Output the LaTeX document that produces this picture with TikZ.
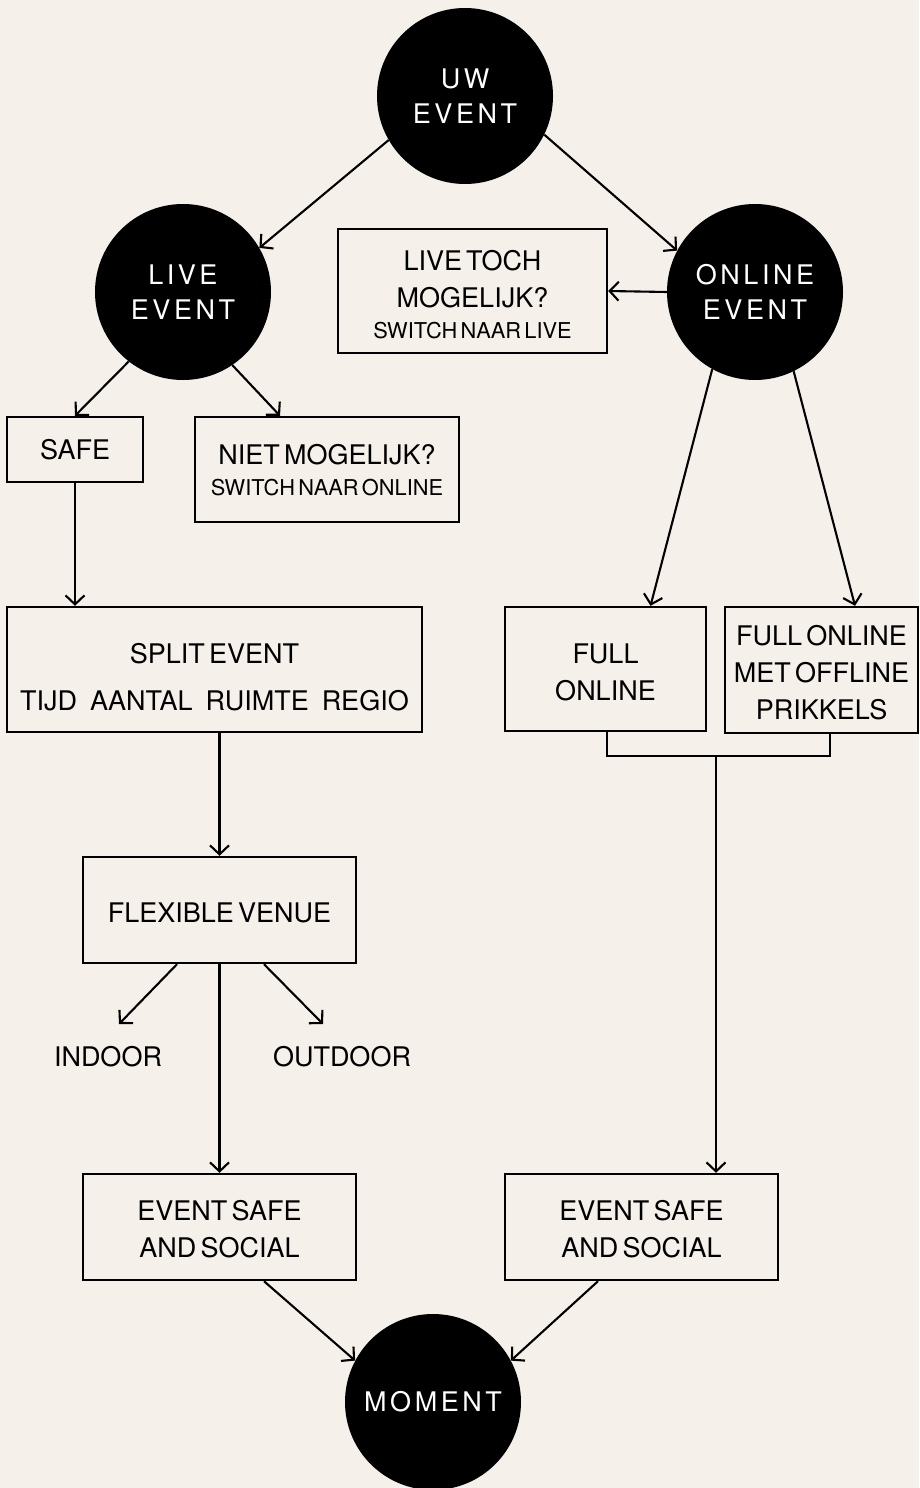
\documentclass[tikz,border=0pt]{standalone}
\usepackage{fontspec}
\setmainfont{TeX Gyre Heros}[WordSpace=0.55]
\newfontfamily\circfont{TeX Gyre Heros}[LetterSpace=13]
\usetikzlibrary{arrows.meta}
\definecolor{bg}{RGB}{245,240,234}
\newlength\txtshift
\newcommand{\bl}[1]{\raisebox{-\txtshift}[\height][\depth]{#1}}
\newcommand{\smalltxt}[1]{{\fontsize{21.8}{30}\selectfont #1}}
\begin{document}
\begin{tikzpicture}[x=1pt,y=-1pt,
  box/.style 2 args={draw, line width=2.4pt, minimum width=#1pt, minimum height=#2pt,
    inner sep=0pt, align=center, font=\fontsize{27}{37}\selectfont,
    execute at begin node={\setlength\txtshift{3pt}}},
  shift/.style={execute at begin node={\setlength\txtshift{#1}}},
  circ/.style={circle, fill=black, minimum size=176pt, inner sep=0pt, align=center,
    text=white, font=\circfont\fontsize{27}{35}\selectfont},
  lbl/.style={inner sep=0pt, font=\fontsize{27}{37}\selectfont},
  conn/.style={line width=2.1pt},
  arr/.style={conn, -{Straight Barb[length=9pt,width=19pt,line width=2.1pt]}}
]
\useasboundingbox (0,0) rectangle (919,1488);
\fill[bg] (0,0) rectangle (919,1488);
\begin{scope}
\clip (0,0) rectangle (919,1488);

% circles
\node[circ] (uw) at (465,96) {UW\\EVENT};
\node[circ] (live) at (183,292) {LIVE\\EVENT};
\node[circ] (online) at (755,292) {ONLINE\\EVENT};
\node[circ] (moment) at (433,1402) {MOMENT};

% boxes
\node[box={269}{124}, shift=3.5pt] (toch) at (472.5,291) {\bl{LIVE TOCH}\\\bl{MOGELIJK?}\\[-6pt]\bl{\smalltxt{SWITCH NAAR LIVE}}};
\node[box={136}{65}, shift=0pt] (safe) at (75,449.5) {SAFE};
\node[box={264}{105}, shift=1pt] (niet) at (327,469.5) {\bl{NIET MOGELIJK?}\\[-6pt]\bl{\smalltxt{SWITCH NAAR ONLINE}}};
\node[box={415}{125}, shift=8pt] (split) at (214.5,669.5) {\bl{SPLIT EVENT}\\[10pt]\bl{TIJD\hspace{13pt}AANTAL\hspace{13pt}RUIMTE\hspace{13pt}REGIO}};
\node[box={201}{124}] (full) at (605.5,669) {\bl{FULL}\\\bl{ONLINE}};
\node[box={193}{126}] (fulloff) at (821.5,670) {\bl{FULL ONLINE}\\\bl{MET OFFLINE}\\\bl{PRIKKELS}};
\node[box={273}{106}] (flex) at (219.5,910) {\bl{FLEXIBLE VENUE}};
\node[box={273}{106}, shift=2pt] (esl) at (219.5,1227) {\bl{EVENT SAFE}\\\bl{AND SOCIAL}};
\node[box={273}{106}, shift=2pt] (esr) at (641.5,1227) {\bl{EVENT SAFE}\\\bl{AND SOCIAL}};

% labels
\node[lbl] (indoor) at (108,1057) {INDOOR};
\node[lbl] (outdoor) at (342,1057) {OUTDOOR};
\coordinate (indoorA) at (119,1024);
\coordinate (outdoorA) at (323,1024);
\coordinate (joinL) at (607,756);
\coordinate (joinR) at (830,756);
\coordinate (joinM) at (716,756);

% connectors
\draw[arr] (uw.210) -- (live.30);
\draw[arr] (uw.-26) -- (online.152);
\draw[arr] (online.west) -- (toch.east);
\draw[arr] (live.232) -- (safe.north);
\draw[arr] (live.-56) -- ([xshift=-47pt]niet.north);
\draw[arr] (safe.south) -- (safe.south |- split.north);
\draw[arr] (online.241) -- ([xshift=45pt]full.north);
\draw[arr] (online.-64.6) -- ([xshift=33.5pt]fulloff.north);
\draw[arr] (flex.north |- split.south) -- (flex.north);
\draw[arr] ([xshift=-42.5pt]flex.south) -- (indoorA);
\draw[arr] ([xshift=44.5pt]flex.south) -- (outdoorA);
\draw[arr] (flex.south) -- (esl.north);
\draw[conn] (full.south -| joinL) -- (joinL) -- (joinR) -- (fulloff.south -| joinR);
\draw[arr] (joinM) -- (esr.north -| joinM);
\draw[arr] ([xshift=44.5pt]esl.south) -- (moment.152);
\draw[arr] ([xshift=-43.5pt]esr.south) -- (moment.28);
\end{scope}
\end{tikzpicture}
\end{document}
